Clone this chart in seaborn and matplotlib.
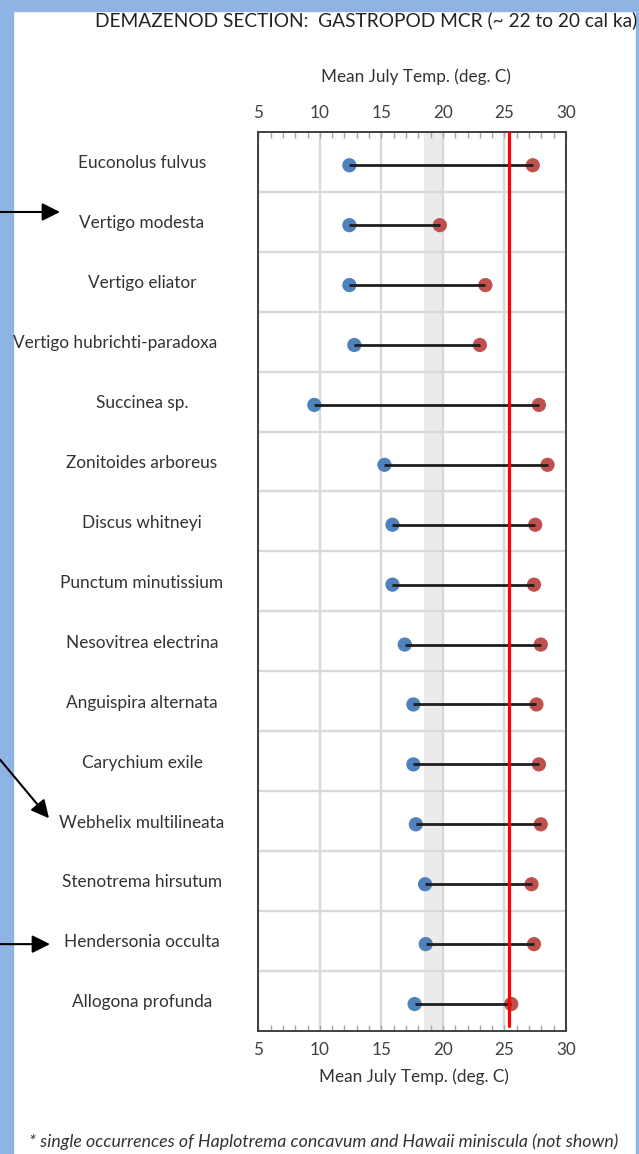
import numpy as np
import pandas as pd
import matplotlib
matplotlib.use("Agg")
import matplotlib.pyplot as plt
import seaborn as sns
from matplotlib.ticker import MultipleLocator, FixedLocator
from matplotlib.transforms import blended_transform_factory
from matplotlib.patches import Rectangle

# Mutual climatic range (Mean July temperature, deg C) per taxon
species = [
    "Euconolus fulvus",
    "Vertigo modesta",
    "Vertigo eliator",
    "Vertigo hubrichti-paradoxa",
    "Succinea sp.",
    "Zonitoides arboreus",
    "Discus whitneyi",
    "Punctum minutissium",
    "Nesovitrea electrina",
    "Anguispira alternata",
    "Carychium exile",
    "Webhelix multilineata",
    "Stenotrema hirsutum",
    "Hendersonia occulta",
    "Allogona profunda",
]
temp_min = [12.4, 12.4, 12.4, 12.8, 9.55, 15.25, 15.9, 15.9, 16.9, 17.6, 17.6, 17.8, 18.55, 18.6, 17.7]
temp_max = [27.3, 19.75, 23.45, 23.0, 27.8, 28.5, 27.5, 27.4, 27.95, 27.6, 27.8, 27.95, 27.2, 27.4, 25.55]

x_ticks = [5, 10, 15, 20, 25, 30]
modern_july_temp = 25.4
overlap_band = (18.5, 19.9)
highlighted = ["Vertigo modesta", "Webhelix multilineata", "Hendersonia occulta"]

title = "DEMAZENOD SECTION:  GASTROPOD MCR (~ 22 to 20 cal ka)"
axis_title = "Mean July Temp. (deg. C)"
footnote = "* single occurrences of Haplotrema concavum and Hawaii miniscula (not shown)"

BLUE = "#4F81BD"
RED = "#C0504D"
TEXT = "#333333"
FRAME_BLUE = "#8DB4E2"

sns.set_theme(style="white")
plt.rcParams["font.family"] = ["Lato", "DejaVu Sans"]

W, H = 639, 1154
fig = plt.figure(figsize=(W / 100, H / 100), dpi=100)
fig.patch.set_facecolor("white")


def fx(px):
    return px / W


def fy(py):
    return 1 - py / H


ax = fig.add_axes([fx(258.3), fy(1030.7), fx(566) - fx(258.3), fy(132) - fy(1030.7)])

rows = np.arange(len(species))
df = pd.DataFrame({
    "species": species * 2,
    "row": np.concatenate([rows, rows]),
    "temp": temp_min + temp_max,
    "bound": ["min"] * len(species) + ["max"] * len(species),
})

# shaded band and modern reference line
ax.axvspan(*overlap_band, color="#EBEBEB", zorder=0.2, lw=0)

sns.scatterplot(data=df, x="temp", y="row", hue="bound",
                palette={"min": BLUE, "max": RED}, s=105, edgecolor="none",
                linewidth=0, legend=False, ax=ax, zorder=3)
ax.hlines(rows, temp_min, temp_max, color="#1E1E1E", lw=2.0, zorder=4)
ax.axvline(modern_july_temp, ymin=0.005, ymax=1, color="#FF0000", lw=2.3, zorder=5)

# markers sit a little below the middle of each row band
row_shift = 0.055
ax.set_xlim(5, 30)
ax.set_ylim(len(species) - 0.5 - row_shift, -0.5 - row_shift)

# grid: vertical at major ticks, horizontal between rows
ax.set_axisbelow(True)
ax.xaxis.set_major_locator(FixedLocator(x_ticks))
ax.xaxis.set_minor_locator(MultipleLocator(1))
ax.yaxis.set_major_locator(FixedLocator(np.arange(0.5, len(species) - 1, 1) - row_shift))
ax.grid(True, which="major", color="#D9D9D9", lw=1.7)
ax.tick_params(axis="y", length=0, labelleft=False)
ax.tick_params(axis="x", which="both", top=True, bottom=True, labeltop=True,
               labelbottom=True, direction="in", color="#A6A6A6",
               labelsize=12.3, labelcolor="#404040", pad=8)
ax.tick_params(axis="x", which="major", length=4, width=1)
ax.tick_params(axis="x", which="minor", length=4, width=1)
ax.set_xlabel("")
ax.set_ylabel("")
for sp in ax.spines.values():
    sp.set_visible(True)
    sp.set_color("#404040")
    sp.set_linewidth(1.4)

# species names, centred in the left margin; long names start at the frame edge
lab_tr = blended_transform_factory(fig.transFigure, ax.transData)
labels = []
for r, name in zip(rows, species):
    t = ax.text(fx(142), r - 0.03, name, transform=lab_tr, ha="center", va="center",
                fontsize=12.4, color=TEXT)
    labels.append(t)
fig.canvas.draw()
renderer = fig.canvas.get_renderer()
for t in labels:
    bb = t.get_window_extent(renderer)
    if bb.x1 > 235:
        t.set_ha("left")
        t.set_x(fx(13))

# axis titles above and below
fig.text(fx(416), fy(77), axis_title, ha="center", va="center", fontsize=12.3, color=TEXT)
fig.text(fx(414), fy(1077), axis_title, ha="center", va="center", fontsize=12.3, color=TEXT)

# header and footnote
fig.text(fx(637), fy(20), title, ha="right", va="center", fontsize=13.8, color="#222222")
fig.text(fx(324), fy(1142), footnote, ha="center", va="center", fontsize=12.8,
         style="italic", color=TEXT)

# pointer arrows for highlighted taxa
arrow_geom = {
    "Vertigo modesta": ((0, -0.22), (60, -0.22)),
    "Webhelix multilineata": ((0, -1.08), (49, -0.1)),
    "Hendersonia occulta": ((0, 0.0), (50, 0.0)),
}
for name in highlighted:
    r = species.index(name)
    (x0, dy0), (x1, dy1) = arrow_geom[name]
    ax.annotate("", xy=(fx(x1), r + dy1), xycoords=lab_tr,
                xytext=(fx(x0), r + dy0), textcoords=lab_tr,
                arrowprops=dict(arrowstyle="-|>", color="black", lw=1.5,
                                mutation_scale=27, shrinkA=0, shrinkB=0),
                annotation_clip=False, zorder=10)

# light blue frame strips
fig.patches.append(Rectangle((0, 0), fx(13), 1, transform=fig.transFigure,
                             color=FRAME_BLUE, zorder=-1))
fig.patches.append(Rectangle((0, fy(11)), 1, 11 / H, transform=fig.transFigure,
                             color=FRAME_BLUE, zorder=-1))
fig.patches.append(Rectangle((1 - fx(3), 0), fx(3), 1, transform=fig.transFigure,
                             color=FRAME_BLUE, zorder=-1))

fig.savefig("out.png", dpi=100)
